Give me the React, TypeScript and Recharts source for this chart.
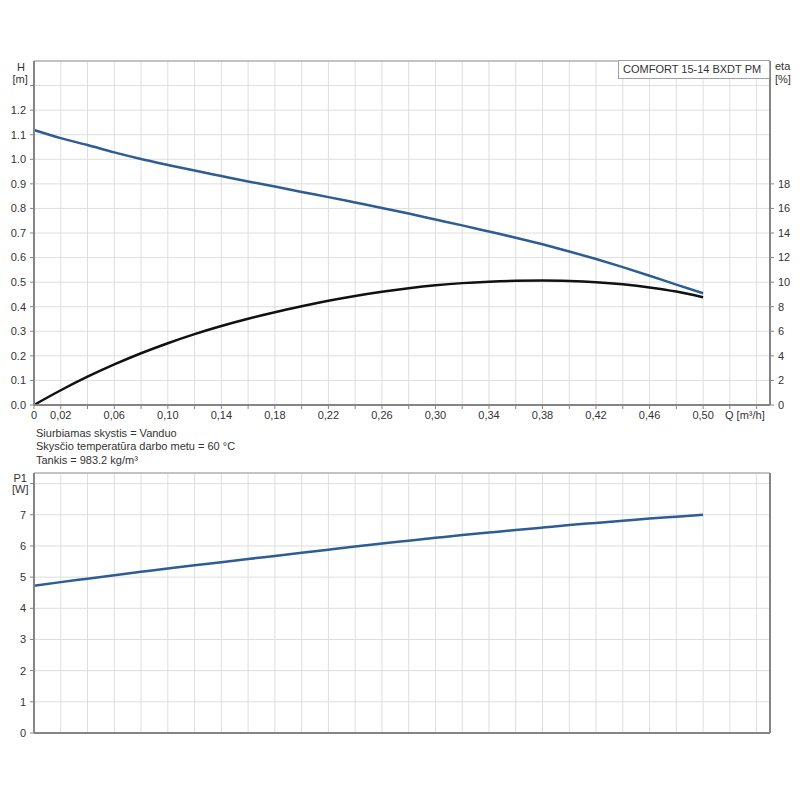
import { LineChart, Line, XAxis, YAxis, CartesianGrid, ReferenceLine } from 'recharts';

// flow points of the curves [m³/h]
const qValues = [
  0, 0.02, 0.04, 0.06, 0.08, 0.1, 0.12, 0.14, 0.16, 0.18, 0.2, 0.22, 0.24,
  0.26, 0.28, 0.3, 0.32, 0.34, 0.36, 0.38, 0.4, 0.42, 0.44, 0.46, 0.48, 0.5,
];
// head H [m]
const headValues = [
  1.119, 1.086, 1.058, 1.028, 1.001, 0.977, 0.954, 0.932, 0.91, 0.889, 0.867,
  0.846, 0.824, 0.802, 0.779, 0.755, 0.731, 0.706, 0.681, 0.654, 0.625, 0.594,
  0.561, 0.526, 0.49, 0.455,
];
// efficiency eta [%]
const etaValues = [
  0, 1.2, 2.3, 3.3, 4.21, 5.03, 5.77, 6.43, 7.02, 7.55, 8.03, 8.48, 8.87, 9.21,
  9.5, 9.74, 9.92, 10.04, 10.11, 10.13, 10.09, 9.99, 9.82, 9.57, 9.23, 8.77,
];
// power P1 [W]
const powerValues = [
  4.72, 4.84, 4.95, 5.06, 5.17, 5.28, 5.38, 5.48, 5.58, 5.68, 5.78, 5.88, 5.98,
  6.08, 6.17, 6.26, 6.35, 6.43, 6.51, 6.59, 6.67, 6.74, 6.81, 6.88, 6.94, 7.0,
];

const qTicks = [
  0, 0.02, 0.04, 0.06, 0.08, 0.1, 0.12, 0.14, 0.16, 0.18, 0.2, 0.22, 0.24, 0.26,
  0.28, 0.3, 0.32, 0.34, 0.36, 0.38, 0.4, 0.42, 0.44, 0.46, 0.48, 0.5, 0.52, 0.54,
];
const qTickLabels = [
  '0', '0,02', '', '0,06', '', '0,10', '', '0,14', '', '0,18', '', '0,22', '',
  '0,26', '', '0,30', '', '0,34', '', '0,38', '', '0,42', '', '0,46', '', '0,50',
  '', '',
];
const headTicks = [0, 0.1, 0.2, 0.3, 0.4, 0.5, 0.6, 0.7, 0.8, 0.9, 1.0, 1.1, 1.2, 1.3];
const headTickLabels = [
  '0.0', '0.1', '0.2', '0.3', '0.4', '0.5', '0.6', '0.7', '0.8', '0.9', '1.0',
  '1.1', '1.2', '',
];
const etaTicks = [0, 2, 4, 6, 8, 10, 12, 14, 16, 18];
const powerTicks = [0, 1, 2, 3, 4, 5, 6, 7, 8];
const powerTickLabels = ['0', '1', '2', '3', '4', '5', '6', '7', ''];

const fluidInfo = [
  'Siurbiamas skystis = Vanduo',
  'Skysčio temperatūra darbo metu = 60 °C',
  'Tankis = 983.2 kg/m³',
];

const rows = qValues.map((q, i) => ({
  q,
  h: headValues[i],
  eta: etaValues[i],
  p1: powerValues[i],
}));

const axisColor = '#858585';
const gridColor = '#dedede';
const tickStyle = { fontSize: 11, fill: '#333' };

const note = (left: number, top: number): React.CSSProperties => ({
  position: 'absolute',
  left,
  top,
  fontSize: 11,
  lineHeight: '11px',
  whiteSpace: 'nowrap',
});

export default function App() {
  return (
    <div
      style={{
        position: 'absolute',
        left: 0,
        top: 0,
        width: 800,
        height: 800,
        background: '#fff',
        color: '#333',
        fontFamily: '"Liberation Sans", Arial, sans-serif',
      }}
    >
      <div style={{ position: 'absolute', left: 0, top: 0 }}>
        <LineChart width={800} height={430} data={rows} margin={{ top: 61, right: 0, bottom: 0, left: 0 }}>
          <CartesianGrid stroke={gridColor} yAxisId="h" />
          <XAxis
            dataKey="q"
            type="number"
            domain={[0, 0.55]}
            ticks={qTicks}
            interval={0}
            height={25}
            tickSize={4}
            tickMargin={2}
            tick={tickStyle}
            tickFormatter={(v: number) => qTickLabels[qTicks.indexOf(v)] ?? ''}
            axisLine={{ stroke: axisColor, strokeWidth: 2 }}
            tickLine={{ stroke: axisColor }}
          />
          <YAxis
            yAxisId="h"
            type="number"
            domain={[0, 1.4]}
            ticks={headTicks}
            interval={0}
            width={34}
            tickSize={4}
            tickMargin={4}
            tick={tickStyle}
            tickFormatter={(v: number) => headTickLabels[headTicks.indexOf(v)] ?? ''}
            axisLine={{ stroke: axisColor, strokeWidth: 2 }}
            tickLine={{ stroke: axisColor }}
          />
          <YAxis
            yAxisId="eta"
            orientation="right"
            type="number"
            domain={[0, 28]}
            ticks={etaTicks}
            interval={0}
            width={30}
            tickSize={4}
            tickMargin={4}
            tick={{ ...tickStyle, textAnchor: 'start' }}
            axisLine={{ stroke: axisColor, strokeWidth: 2 }}
            tickLine={{ stroke: axisColor }}
          />
          <ReferenceLine yAxisId="h" y={1.4} stroke="#b4b4b4" strokeWidth={1.5} />
          <Line
            yAxisId="h"
            dataKey="h"
            type="monotone"
            stroke="#2e5c94"
            strokeWidth={2.5}
            dot={false}
            isAnimationActive={false}
          />
          <Line
            yAxisId="eta"
            dataKey="eta"
            type="monotone"
            stroke="#111"
            strokeWidth={2.5}
            dot={false}
            isAnimationActive={false}
          />
        </LineChart>
      </div>

      <div style={{ position: 'absolute', left: 0, top: 440 }}>
        <LineChart width={800} height={320} data={rows} margin={{ top: 33, right: 0, bottom: 0, left: 0 }}>
          <CartesianGrid stroke={gridColor} yAxisId="p" />
          <XAxis
            dataKey="q"
            type="number"
            domain={[0, 0.55]}
            ticks={qTicks}
            interval={0}
            height={27}
            tick={tickStyle}
            tickFormatter={() => ''}
            tickLine={false}
            axisLine={{ stroke: axisColor, strokeWidth: 2 }}
          />
          <YAxis
            yAxisId="p"
            type="number"
            domain={[0, 8.34]}
            ticks={powerTicks}
            interval={0}
            width={34}
            tickSize={4}
            tickMargin={4}
            tick={tickStyle}
            tickFormatter={(v: number) => powerTickLabels[powerTicks.indexOf(v)] ?? ''}
            axisLine={{ stroke: axisColor, strokeWidth: 2 }}
            tickLine={{ stroke: axisColor }}
          />
          <YAxis
            yAxisId="edge"
            orientation="right"
            type="number"
            domain={[0, 8.34]}
            width={30}
            tick={false}
            tickLine={false}
            axisLine={{ stroke: axisColor, strokeWidth: 2 }}
          />
          <ReferenceLine yAxisId="p" y={8.34} stroke="#b4b4b4" strokeWidth={1.5} />
          <Line
            yAxisId="p"
            dataKey="p1"
            type="monotone"
            stroke="#2e5c94"
            strokeWidth={2.5}
            dot={false}
            isAnimationActive={false}
          />
        </LineChart>
      </div>

      <div style={note(17, 61.5)}>H</div>
      <div style={note(12.5, 74)}>[m]</div>
      <div style={note(775, 61)}>eta</div>
      <div style={note(775, 74)}>[%]</div>
      <div style={note(725, 410)}>Q [m³/h]</div>
      <div
        style={{
          position: 'absolute',
          left: 618,
          top: 60,
          width: 146,
          height: 17,
          border: '1px solid #a0a0a0',
          background: '#fff',
          fontSize: 11,
          lineHeight: '17px',
          paddingLeft: 4,
          boxSizing: 'content-box',
          whiteSpace: 'nowrap',
        }}
      >
        COMFORT 15-14 BXDT PM
      </div>
      {fluidInfo.map((line, i) => (
        <div key={line} style={note(36, 428 + i * 13.4)}>
          {line}
        </div>
      ))}
      <div style={note(13.5, 472.5)}>P1</div>
      <div style={note(12, 484)}>[W]</div>
    </div>
  );
}
